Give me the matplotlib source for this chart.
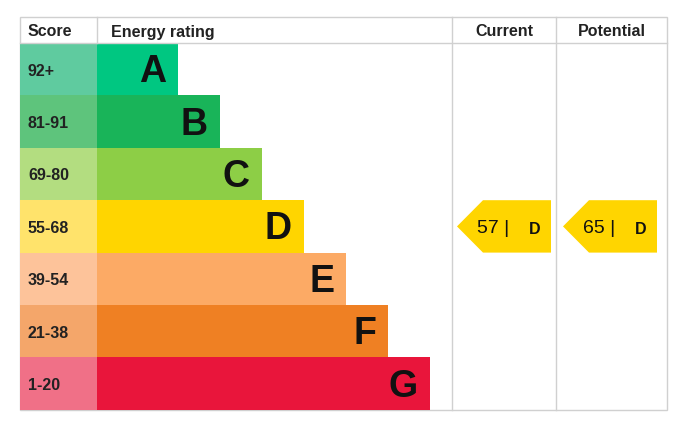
import matplotlib.pyplot as plt
from matplotlib.patches import Rectangle, Polygon

# EPC bands
bands = ['A', 'B', 'C', 'D', 'E', 'F', 'G']
score_ranges = ['92+', '81-91', '69-80', '55-68', '39-54', '21-38', '1-20']
bar_ends = [178, 220, 262, 304, 346, 388, 430]
bar_colors = ['#00c781', '#19b459', '#8dce46', '#ffd500', '#fcaa65', '#ef8023', '#e9153b']
score_colors = ['#5fcb9f', '#5ec47c', '#b3dd80', '#ffe36b', '#fdc39a', '#f4a66a', '#f07087']

current_score, current_band = 57, 'D'
potential_score, potential_band = 65, 'D'

fig = plt.figure(figsize=(7, 4.39), dpi=100)
ax = fig.add_axes([0, 0, 1, 1])
ax.set_xlim(0, 700)
ax.set_ylim(439, 0)
ax.axis('off')

left, top, head_h, row_h = 20, 18, 26, 52.4
score_r, cur_l, pot_l, right = 97, 452, 556, 667
bottom = top + head_h + row_h * len(bands)
grid = '#d0d0d0'

# outline and header
ax.add_patch(Rectangle((left, top), right - left, bottom - top, fill=False, ec=grid, lw=1))
ax.plot([left, right], [top + head_h] * 2, color=grid, lw=1)
ax.plot([score_r, score_r], [top, top + head_h], color=grid, lw=1)
for xv in (cur_l, pot_l):
    ax.plot([xv, xv], [top, bottom], color=grid, lw=1)

hy = top + head_h / 2 + 1
hfont = dict(fontsize=11.5, fontweight='bold', family='Liberation Sans', va='center', color='#222222')
ax.text(left + 8, hy, 'Score', ha='left', **hfont)
ax.text(score_r + 14, hy, 'Energy rating', ha='left', **hfont)
ax.text((cur_l + pot_l) / 2, hy, 'Current', ha='center', **hfont)
ax.text((pot_l + right) / 2, hy, 'Potential', ha='center', **hfont)

for i, (b, s, e, bc, sc) in enumerate(zip(bands, score_ranges, bar_ends, bar_colors, score_colors)):
    y0 = top + head_h + i * row_h
    ax.add_patch(Rectangle((left, y0), score_r - left, row_h, color=sc, lw=0))
    ax.add_patch(Rectangle((score_r, y0), e - score_r, row_h, color=bc, lw=0))
    ax.text(left + 8, y0 + row_h / 2 + 1, s, ha='left', va='center', fontsize=11.5,
            fontweight='bold', family='Liberation Sans', color='#222222')
    ax.text(e - 12, y0 + row_h / 2 + 2, b, ha='right', va='center', fontsize=27,
            fontweight='bold', family='Liberation Sans', color='#111111')


def arrow(x_l, x_r, score, band):
    i = bands.index(band)
    y0 = top + head_h + i * row_h
    y1 = y0 + row_h
    tip = 26
    ax.add_patch(Polygon([(x_l, (y0 + y1) / 2), (x_l + tip, y0), (x_r, y0), (x_r, y1), (x_l + tip, y1)],
                         closed=True, color=bar_colors[i], lw=0))
    ax.text(x_l + 20, (y0 + y1) / 2 + 1, f'{score} |', ha='left', va='center', fontsize=14,
            family='Liberation Sans', color='#111111')
    ax.text(x_r - 10, (y0 + y1) / 2 + 2, band, ha='right', va='center', fontsize=11.5,
            fontweight='bold', family='Liberation Sans', color='#111111')


arrow(cur_l + 5, pot_l - 5, current_score, current_band)
arrow(pot_l + 7, right - 10, potential_score, potential_band)

fig.savefig('out.png', dpi=100)
